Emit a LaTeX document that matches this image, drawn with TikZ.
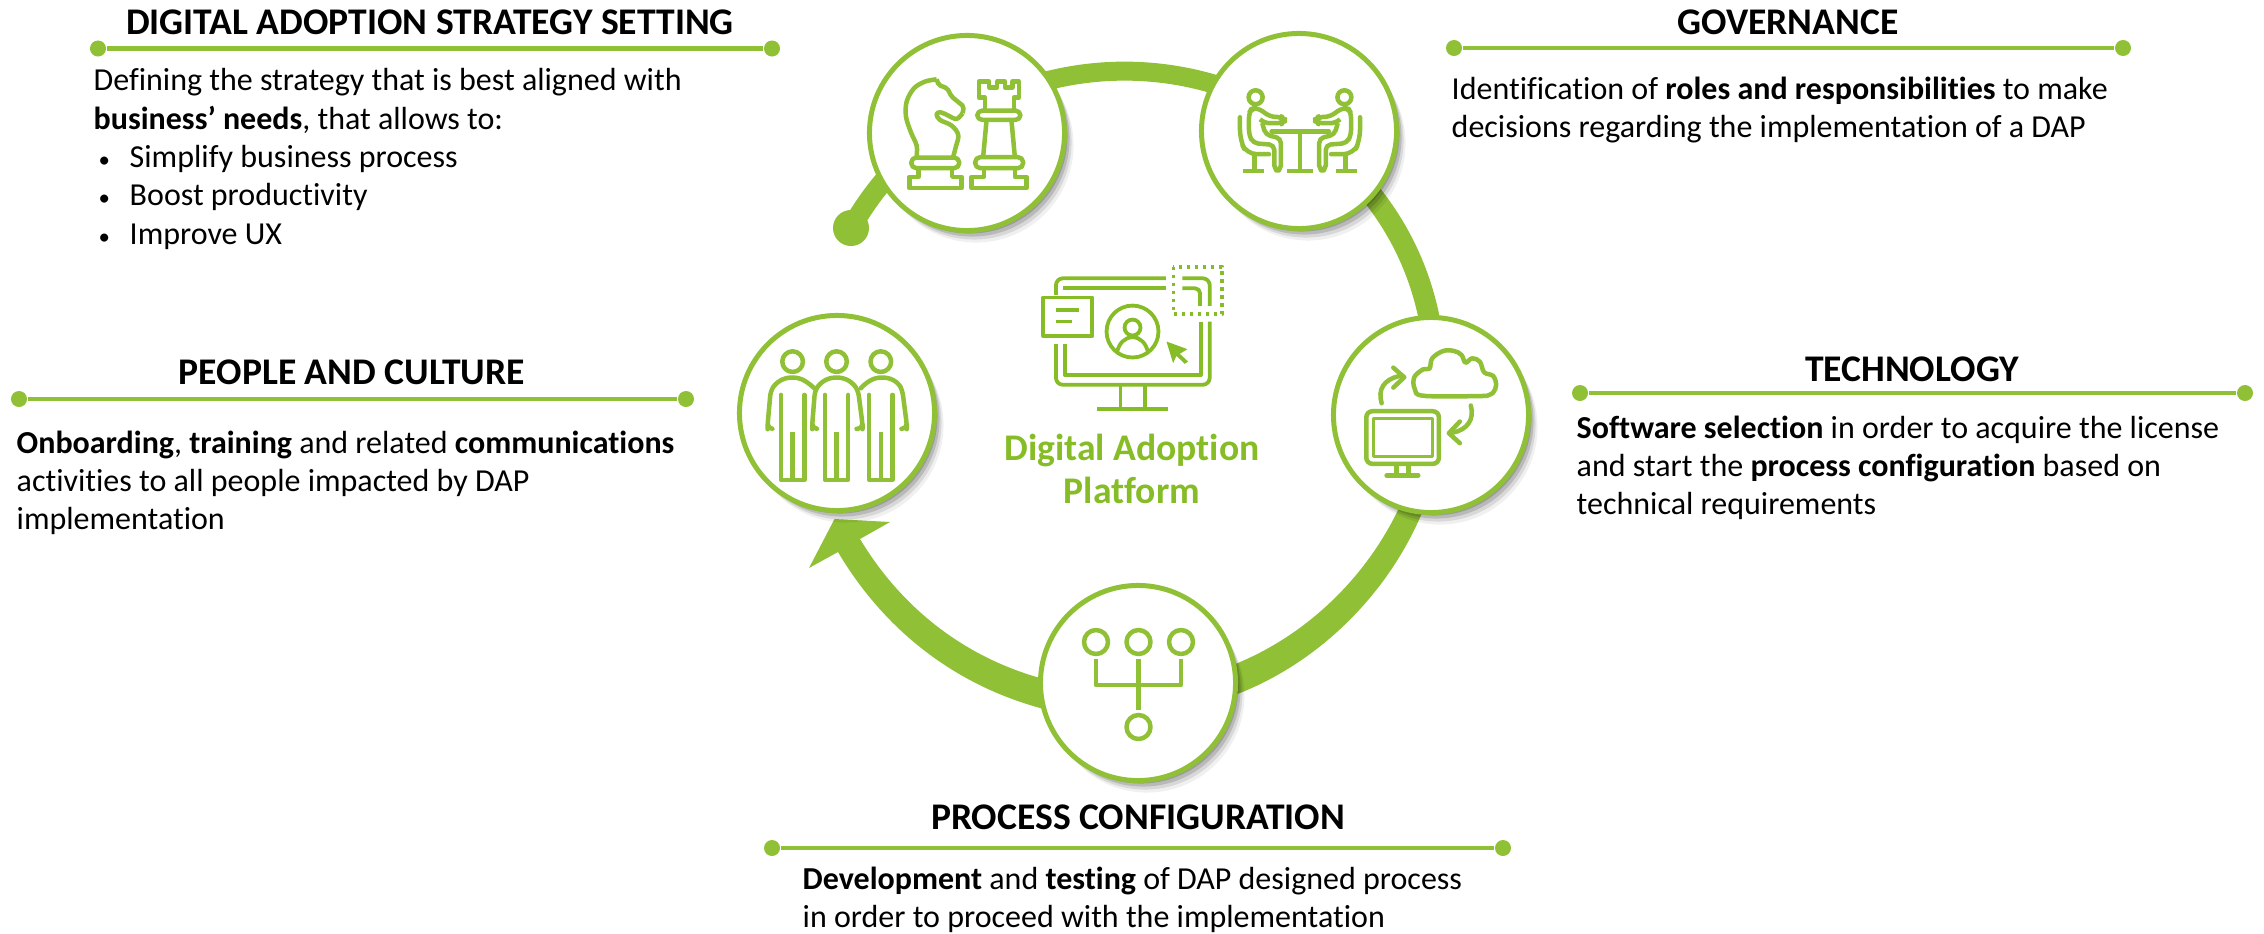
\documentclass[tikz,border=0pt]{standalone}
\usepackage{fontspec}
\setmainfont{Carlito}[Ligatures=NoCommon]
\usetikzlibrary{positioning,shadows}
\definecolor{dapgreen}{HTML}{8FC035}
\definecolor{daptext}{HTML}{86BC25}

\tikzset{
	softshadow/.style={
		general shadow={shadow xshift=.03cm,shadow yshift=-.03cm,fill=black,opacity=.16},
		general shadow={shadow xshift=.05cm,shadow yshift=-.06cm,fill=black,opacity=.14},
		general shadow={shadow xshift=.07cm,shadow yshift=-.09cm,fill=black,opacity=.10},
		general shadow={shadow xshift=.09cm,shadow yshift=-.12cm,fill=black,opacity=.06}},
	stage/.style={circle,draw=dapgreen,line width=.05cm,fill=white,minimum size=1.95cm,inner sep=0pt,softshadow},
	ringfill/.style={fill=dapgreen,looseness=.92},
	ringline/.style={draw=dapgreen,line width=.2cm,looseness=.92},
	dot/.style={circle,fill=dapgreen,minimum size=.16cm,inner sep=0pt},
	headline/.style={draw=dapgreen,line width=.045cm},
	headtitle/.style={font=\fontsize{10.7}{12}\selectfont\bfseries,inner sep=0pt},
	bodytext/.style={font=\fontsize{9.1}{10.9}\selectfont,align=left,anchor=north west,inner sep=0pt},
	iconline/.style={draw=dapgreen,line width=.045cm,line join=round},
	zoomed/.style 2 args={shift={(#1,#2)},x=.003333cm,y=-.003333cm}
}

\newcommand{\sitter}{
	\draw[iconline] (92,112) circle (21);
	\draw[iconline,rounded corners=.05cm] (105,178) -- (120,190) -- (172,190) -- (178,181) -- (172,172) -- (135,170) -- (100,145) -- (80,145) -- (72,160) -- (72,225) -- (85,250) -- (148,255) -- (148,332) -- (168,332) -- (168,235) -- (122,225) -- (112,190);
	\draw[iconline,line cap=round,rounded corners=.1cm] (45,172) -- (45,240) -- (65,283) -- (132,283);
	\draw[iconline] (88,283) -- (88,333);
	\draw[iconline] (55,333) -- (118,333);
}
\newcommand{\standee}{
	\draw[iconline] (245,80) circle (31);
	\draw[iconline,line cap=round] (210,180) -- (210,435) -- (280,435) -- (280,180);
	\draw[iconline] (245,290) -- (245,435);
}
\newcommand{\bulletitem}[1]{\hspace{.05cm}\makebox[.31cm][l]{\fontsize{6.5}{6}\selectfont•}#1}

\begin{document}
\begin{tikzpicture}[x=.01cm,y=-.01cm]
	\useasboundingbox (0,0) rectangle (2264,933);

	% band coordinates, hidden below the circles
	\coordinate (tail) at (851,228);
	\coordinate (chessmid) at (964,115);
	\coordinate (govmid) at (1290,118);
	\coordinate (govlow) at (1340,160);
	\coordinate (techtop) at (1435,360);
	\coordinate (techout) at (1446,408);
	\coordinate (techin) at (1426,406);
	\coordinate (procout) at (1180,710);
	\coordinate (procin) at (1180,680);
	\coordinate (leftout) at (1090,718);
	\coordinate (leftin) at (1090,688);
	\coordinate (notchout) at (838,552);
	\coordinate (notchin) at (860,539);
	\coordinate (tip) at (834.5,519);
	\coordinate (wingin) at (890,522);
	\coordinate (wingout) at (809,568);

	\node[circle,fill=dapgreen,minimum size=.36cm,inner sep=0pt] (taildot) at (tail) {};
	\draw[ringline] (tail) to[bend left=15] (chessmid);
	\draw[ringline,line width=.19cm] (chessmid) to[bend left=31] (govmid);
	\draw[ringline,line width=.21cm] (govlow) to[bend left=21] (techtop);
	\fill[ringfill] (techout) to[bend left=39] (procout) -- (procin) to[bend right=38] (techin) -- cycle;
	\fill[ringfill] (leftout) to[bend left=26] (notchout) -- (wingout) -- (tip) -- (wingin) -- (notchin) to[bend right=26] (leftin) -- cycle;

	\node[stage] (chess) at (967,133) {};
	\node[stage] (gov) at (1299,131) {};
	\node[stage] (tech) at (1431,415) {};
	\node[stage] (proc) at (1138,683) {};
	\node[stage] (ppl) at (837,413) {};

	% chess pieces
	\begin{scope}[zoomed={890}{55}]
		\draw[iconline] plot[smooth,tension=.55] coordinates {(80,305) (80,272) (62,230) (48,185) (50,140) (72,100) (105,80) (140,73)};
		\draw[iconline,rounded corners=.02cm] (140,73) -- (146,90) -- (172,100) -- (185,125) -- (222,155) -- (218,175);
		\draw[iconline] plot[smooth,tension=.6] coordinates {(218,175) (200,192) (175,182) (152,172) (140,178) (150,195) (185,212) (205,240) (198,275) (190,305)};
		\draw[iconline,rounded corners=.05cm] (64,308) rectangle (208,340);
		\draw[iconline] (85,342) -- (85,366) -- (58,366) -- (58,400) -- (215,400) -- (215,366) -- (187,366) -- (187,342);
		\draw[iconline] (285,165) -- (285,128) -- (267,128) -- (267,80) -- (298,80) -- (298,97) -- (322,97) -- (322,80) -- (345,80) -- (345,97) -- (368,97) -- (368,80) -- (387,80) -- (387,128) -- (372,128) -- (372,165);
		\draw[iconline,rounded corners=.05cm] (262,167) rectangle (392,195);
		\draw[iconline] (290,197) -- (280,305);
		\draw[iconline] (365,197) -- (375,305);
		\draw[iconline,rounded corners=.05cm] (256,307) rectangle (400,340);
		\draw[iconline] (282,342) -- (282,366) -- (245,366) -- (245,400) -- (410,400) -- (410,366) -- (375,366) -- (375,342);
	\end{scope}

	% two people at a table
	\begin{scope}[zoomed={1225}{60}]
		\sitter
		\draw[iconline,line cap=round] (140,215) -- (312,215);
		\draw[iconline] (225,215) -- (225,333);
		\draw[iconline] (185,333) -- (265,333);
	\end{scope}
	\begin{scope}[shift={(1375,60)},x=-.003333cm,y=-.003333cm]
		\sitter
	\end{scope}

	% cloud and computer
	\begin{scope}[zoomed={1355}{340}]
		\draw[iconline] plot[smooth,tension=.6] coordinates {(395,168) (210,168) (180,148) (178,112) (205,88) (224,86) (232,55) (265,33) (298,33) (320,45) (332,68) (352,55) (375,65) (388,97) (415,108) (424,135) (415,158) (395,168)};
		\draw[iconline,line cap=round] (80,190) .. controls (68,150) and (85,118) .. (135,108);
		\draw[iconline,line cap=round] (115,83) -- (148,112) -- (115,143);
		\draw[iconline,line cap=round] (348,197) .. controls (360,240) and (335,270) .. (295,278);
		\draw[iconline,line cap=round] (315,245) -- (282,280) -- (315,310);
		\draw[iconline,rounded corners=.06cm] (34,214) rectangle (252,372);
		\draw[iconline,line width=.03cm] (55,236) rectangle (232,349);
		\draw[iconline] (125,372) -- (125,405);
		\draw[iconline] (160,372) -- (160,405);
		\draw[iconline,line cap=round] (95,407) -- (190,407);
	\end{scope}

	% three people
	\begin{scope}[zoomed={755}{335}]
		\draw[iconline,rounded corners=.05cm,line cap=round] (185,282) -- (172,282) -- (172,268) -- (180,168) -- (195,145) -- (225,128) -- (265,128) -- (295,145) -- (310,168) -- (323,268) -- (323,282) -- (305,282);
		\draw[iconline,rounded corners=.05cm,line cap=round] (52,282) -- (38,282) -- (38,268) -- (47,168) -- (62,145) -- (92,128) -- (132,128) -- (162,145) -- (178,160);
		\draw[iconline,rounded corners=.05cm,line cap=round] (318,160) -- (332,145) -- (362,128) -- (402,128) -- (432,145) -- (443,168) -- (456,268) -- (456,282) -- (440,282);
		\standee
		\begin{scope}[shift={(-132,0)}]
			\standee
		\end{scope}
		\begin{scope}[shift={(133,0)}]
			\standee
		\end{scope}
	\end{scope}

	% tree of circles
	\draw[iconline] (1096,642) circle (12);
	\draw[iconline] (1138.5,642) circle (12);
	\draw[iconline] (1181,642) circle (12);
	\draw[iconline] (1138.5,727) circle (12);
	\draw[iconline] (1096,659) -- (1096,685) -- (1181,685) -- (1181,659);
	\draw[iconline] (1138.5,659) -- (1138.5,710);

	% platform screen in the middle
	\begin{scope}[zoomed={1030}{250},iconline/.append style={draw=daptext,line width=.038cm}]
		\draw[iconline,rounded corners=.07cm] (78,283) -- (78,405) -- (540,405) -- (540,215);
		\draw[iconline,rounded corners=.07cm] (78,135) -- (78,85) -- (408,85);
		\draw[iconline,rounded corners=.07cm] (458,85) -- (540,85) -- (540,168);
		\draw[iconline] (105,283) -- (105,376) -- (513,376) -- (513,215);
		\draw[iconline] (100,115) -- (408,115);
		\draw[iconline,rounded corners=.05cm] (458,115) -- (511,115) -- (511,168);
		\draw[iconline] (272,408) -- (272,476);
		\draw[iconline] (345,408) -- (345,476);
		\draw[iconline] (202,478) -- (415,478);
		\draw[iconline] (40,143) rectangle (187,259);
		\draw[iconline] (78,180) -- (148,180);
		\draw[iconline] (78,215) -- (126,215);
		\draw[iconline] (308,245) circle (78);
		\draw[iconline] (308,233) circle (24);
		\draw[iconline] (262,305) .. controls (268,280) and (285,262) .. (308,262) .. controls (331,262) and (348,280) .. (354,305);
		\fill[daptext] (410,275) -- (473,298) -- (450,312) -- (475,335) -- (465,342) -- (440,318) -- (430,340) -- cycle;
		\draw[iconline,dash pattern=on .035cm off .045cm] (431,50) rectangle (578,193);
	\end{scope}

	\node[font=\fontsize{10.7}{12.4}\selectfont\bfseries,text=daptext,align=center,inner sep=0pt] (dap) at (1132,469) {Digital Adoption\\Platform};

	% strategy
	\node[dot] (stratl) at (98,48.5) {};
	\node[dot] (stratr) at (772,48.5) {};
	\draw[headline] (stratl) -- (stratr);
	\node[headtitle] (strath) at (430,22) {DIGITAL ADOPTION STRATEGY SETTING};
	\node[bodytext] (stratb) at (93,68) {Defining the strategy that is best aligned with\\\textbf{business’ needs}, that allows to:\\\bulletitem{Simplify business process}\\\bulletitem{Boost productivity}\\\bulletitem{Improve UX}};

	% governance
	\node[dot] (govl) at (1454,48) {};
	\node[dot] (govr) at (2123,48) {};
	\draw[headline] (govl) -- (govr);
	\node[headtitle] (govh) at (1788,22) {GOVERNANCE};
	\node[bodytext] (govb) at (1451,76) {Identification of \textbf{roles and responsibilities} to make\\decisions regarding the implementation of a DAP};

	% technology
	\node[dot] (techl) at (1580,393) {};
	\node[dot] (techr) at (2245,393) {};
	\draw[headline] (techl) -- (techr);
	\node[headtitle] (techh) at (1912,369) {TECHNOLOGY};
	\node[bodytext] (techb) at (1576,415) {\textbf{Software selection} in order to acquire the license\\and start the \textbf{process configuration} based on\\technical requirements};

	% people
	\node[dot] (pplr) at (686,399) {};
	\node[dot] (ppll) at (19,399) {};
	\draw[headline] (ppll) -- (pplr);
	\node[headtitle] (pplh) at (352,372) {PEOPLE AND CULTURE};
	\node[bodytext] (pplb) at (16,430) {\textbf{Onboarding}, \textbf{training} and related \textbf{communications}\\activities to all people impacted by DAP\\implementation};

	% process
	\node[dot] (procl) at (772,848) {};
	\node[dot] (procr) at (1503,848) {};
	\draw[headline] (procl) -- (procr);
	\node[headtitle] (proch) at (1138,817) {PROCESS CONFIGURATION};
	\node[bodytext] (procb) at (802,866) {\textbf{Development} and \textbf{testing} of DAP designed process\\in order to proceed with the implementation};
\end{tikzpicture}
\end{document}
